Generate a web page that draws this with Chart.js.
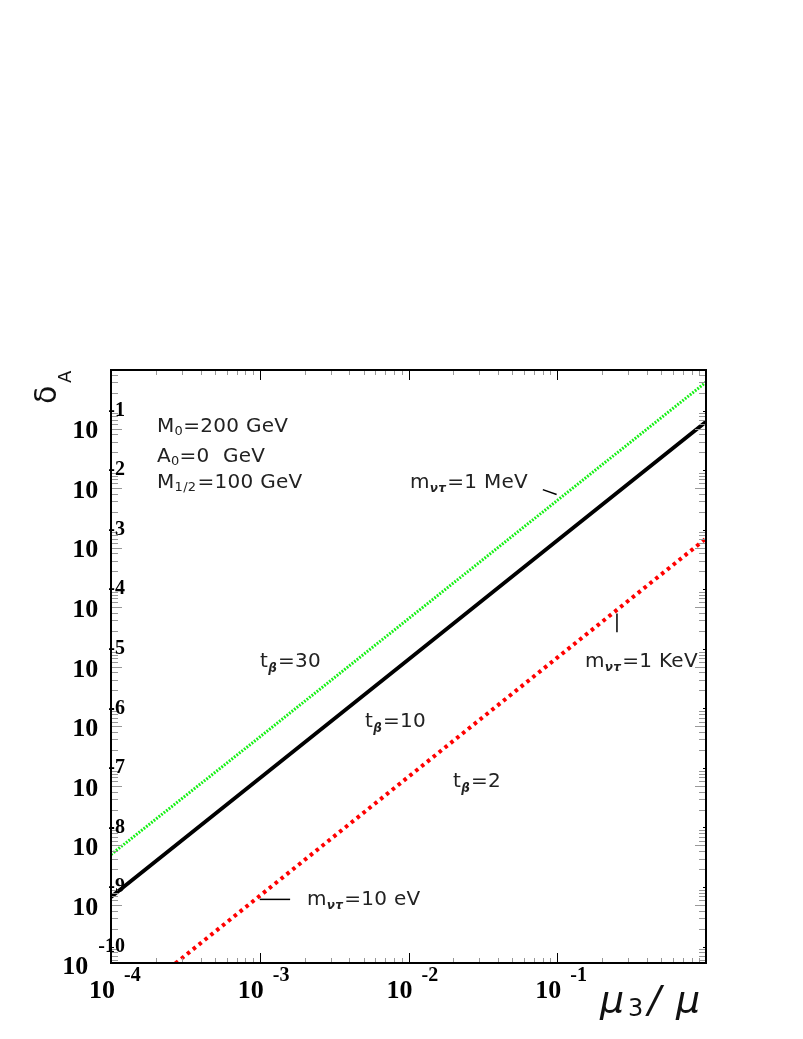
<!DOCTYPE html>
<html>
<head>
<meta charset="utf-8">
<script src="https://cdn.jsdelivr.net/npm/chart.js@4"></script>
<style>
  html, body { margin: 0; padding: 0; background: #fff; }
  canvas { display: block; }
</style>
</head>
<body>
<canvas id="chart" width="803" height="1039"></canvas>
<script>
// mu3/mu values (one point per decade)
const xValues = [1e-4, 1e-3, 1e-2, 1e-1, 1];
// delta_A for each tan(beta)
const tb30 = [3.5e-9, 3.3e-7, 3.2e-5, 3.1e-3, 0.30];
const tb10 = [6.8e-10, 6.7e-8, 6.6e-6, 6.6e-4, 6.5e-2];
const tb2 = [7.1e-12, 7.1e-10, 7.1e-8, 7.1e-6, 7.1e-4];

// small neutrino-mass markers
const mevX = [0.080, 0.099];
const mevY = [4.7e-3, 3.9e-3];
const kevX = [0.252, 0.252];
const kevY = [3.9e-5, 1.9e-5];
const evX = [1.0e-3, 1.6e-3];
const evY = [6.2e-10, 6.2e-10];

// axis ranges and tick exponents
const xMin = 1e-4, xMax = 1;
const yMin = 5.3e-11, yMax = 0.48;
const xTickExps = [-4, -3, -2, -1];
const yTickExps = [-1, -2, -3, -4, -5, -6, -7, -8, -9, -10];

const pts = (xs, ys) => xs.map((x, i) => ({ x: x, y: ys[i] }));

const frame = {
  id: 'frame',
  afterDraw(chart) {
    const ctx = chart.ctx;
    const a = chart.chartArea;
    const xs = chart.scales.x, ys = chart.scales.y;
    ctx.save();

    // minor / major ticks, drawn inward
    for (let e = -11; e <= 0; e++) {
      for (let m = 1; m <= 9; m++) {
        const v = m * Math.pow(10, e);
        if (v >= xMin && v <= xMax) {
          const px = Math.round(xs.getPixelForValue(v)) + 0.5;
          const len = m === 1 ? 10 : 5;
          ctx.strokeStyle = m === 1 ? '#000' : '#999';
          ctx.lineWidth = 1;
          ctx.beginPath();
          ctx.moveTo(px, a.bottom); ctx.lineTo(px, a.bottom - len);
          ctx.moveTo(px, a.top); ctx.lineTo(px, a.top + len);
          ctx.stroke();
        }
        if (v >= yMin && v <= yMax) {
          const py = Math.round(ys.getPixelForValue(v)) + 0.5;
          const len = m === 1 ? 3 : (m === 5 ? 11 : 7);
          ctx.strokeStyle = m === 1 ? '#000' : '#999';
          ctx.lineWidth = 1;
          ctx.beginPath();
          ctx.moveTo(a.left, py); ctx.lineTo(a.left + len, py);
          ctx.moveTo(a.right, py); ctx.lineTo(a.right - len, py);
          ctx.stroke();
        }
      }
    }

    // frame
    ctx.strokeStyle = '#000';
    ctx.lineWidth = 2;
    ctx.strokeRect(a.left, a.top, a.right - a.left, a.bottom - a.top);

    // y tick labels: 10 with exponent
    ctx.fillStyle = '#000';
    ctx.textBaseline = 'middle';
    yTickExps.forEach(e => {
      const py = ys.getPixelForValue(Math.pow(10, e));
      ctx.font = 'bold 20px "Liberation Serif"';
      ctx.textAlign = 'right';
      const exp = String(e);
      ctx.fillText(exp, a.left + 14, py);
      const w = ctx.measureText(exp).width;
      ctx.font = 'bold 26px "Liberation Serif"';
      ctx.fillText('10', a.left + 14 - w - 10, py + 21);
    });

    // x tick labels
    xTickExps.forEach(e => {
      const px = xs.getPixelForValue(Math.pow(10, e));
      ctx.font = 'bold 26px "Liberation Serif"';
      ctx.textAlign = 'right';
      ctx.fillText('10', px + 4, a.bottom + 28);
      ctx.font = 'bold 20px "Liberation Serif"';
      ctx.textAlign = 'left';
      ctx.fillText(String(e), px + 13, a.bottom + 13);
    });

    // axis titles
    ctx.fillStyle = '#111';
    ctx.textBaseline = 'alphabetic';
    ctx.textAlign = 'left';
    ctx.font = 'italic 38px "DejaVu Sans"';
    ctx.fillText('\u03bc', 600, 1012);
    ctx.font = '24px "DejaVu Sans"';
    ctx.fillText('3', 628, 1016);
    ctx.font = 'italic 38px "DejaVu Sans"';
    ctx.fillText('/', 648, 1012);
    ctx.fillText('\u03bc', 676, 1012);

    ctx.save();
    ctx.translate(56, 404);
    ctx.rotate(-Math.PI / 2);
    ctx.font = '30px "DejaVu Sans"';
    ctx.fillText('\u03b4', 0, 0);
    ctx.font = '18px "DejaVu Sans"';
    ctx.fillText('A', 21, 15);
    ctx.restore();

    // annotations
    const sub = (parts, x, y) => {
      let cx = x;
      parts.forEach(p => {
        ctx.font = p[1];
        ctx.fillText(p[0], cx, y + (p[2] || 0));
        cx += ctx.measureText(p[0]).width + (p[3] || 0);
      });
    };
    const big = '20px "DejaVu Sans"';
    const small = '13px "DejaVu Sans"';
    const smallI = 'italic bold 12px "DejaVu Sans"';
    ctx.fillStyle = '#222';
    ctx.letterSpacing = '0.3px';
    sub([['M', big], ['0', small, 3], ['=200 GeV', big]], 157, 432);
    sub([['A', big], ['0', small, 3], ['=0  GeV', big]], 157, 462);
    sub([['M', big], ['1/2', small, 3, 1], ['=100 GeV', big]], 157, 488);

    sub([['m', big], ['\u03bd\u03c4', smallI, 4, 1], ['=1 MeV', big]], 410, 488);
    sub([['m', big], ['\u03bd\u03c4', smallI, 4, 1], ['=1 KeV', big]], 585, 667);
    sub([['m', big], ['\u03bd\u03c4', smallI, 4, 1], ['=10 eV', big]], 307, 905);

    sub([['t', big], ['\u03b2', smallI, 5, 1], ['=30', big]], 260, 667);
    sub([['t', big], ['\u03b2', smallI, 5, 1], ['=10', big]], 365, 727);
    sub([['t', big], ['\u03b2', smallI, 5, 1], ['=2', big]], 453, 787);

    ctx.restore();
  }
};

new Chart(document.getElementById('chart'), {
  type: 'line',
  data: {
    datasets: [
      {
        label: 'tb=30',
        data: pts(xValues, tb30),
        borderColor: '#14f014',
        borderWidth: 3,
        borderDash: [1.8, 1.4]
      },
      {
        label: 'tb=10',
        data: pts(xValues, tb10),
        borderColor: '#000',
        borderWidth: 3.8
      },
      {
        label: 'tb=2',
        data: pts(xValues, tb2),
        borderColor: '#ff0000',
        borderWidth: 4,
        borderDash: [3.5, 4]
      },
      { label: 'MeV', data: pts(mevX, mevY), borderColor: '#000', borderWidth: 1.5 },
      { label: 'KeV', data: pts(kevX, kevY), borderColor: '#000', borderWidth: 1.5 },
      { label: 'eV', data: pts(evX, evY), borderColor: '#000', borderWidth: 1.5 }
    ]
  },
  options: {
    responsive: false,
    animation: false,
    layout: {
      padding: { left: 111, top: 370, right: 97, bottom: 76 }
    },
    elements: {
      point: { radius: 0 },
      line: { tension: 0, fill: false }
    },
    scales: {
      x: { type: 'logarithmic', min: xMin, max: xMax, display: false },
      y: { type: 'logarithmic', min: yMin, max: yMax, display: false }
    },
    plugins: {
      legend: { display: false },
      tooltip: { enabled: false }
    }
  },
  plugins: [frame]
});
</script>
</body>
</html>
